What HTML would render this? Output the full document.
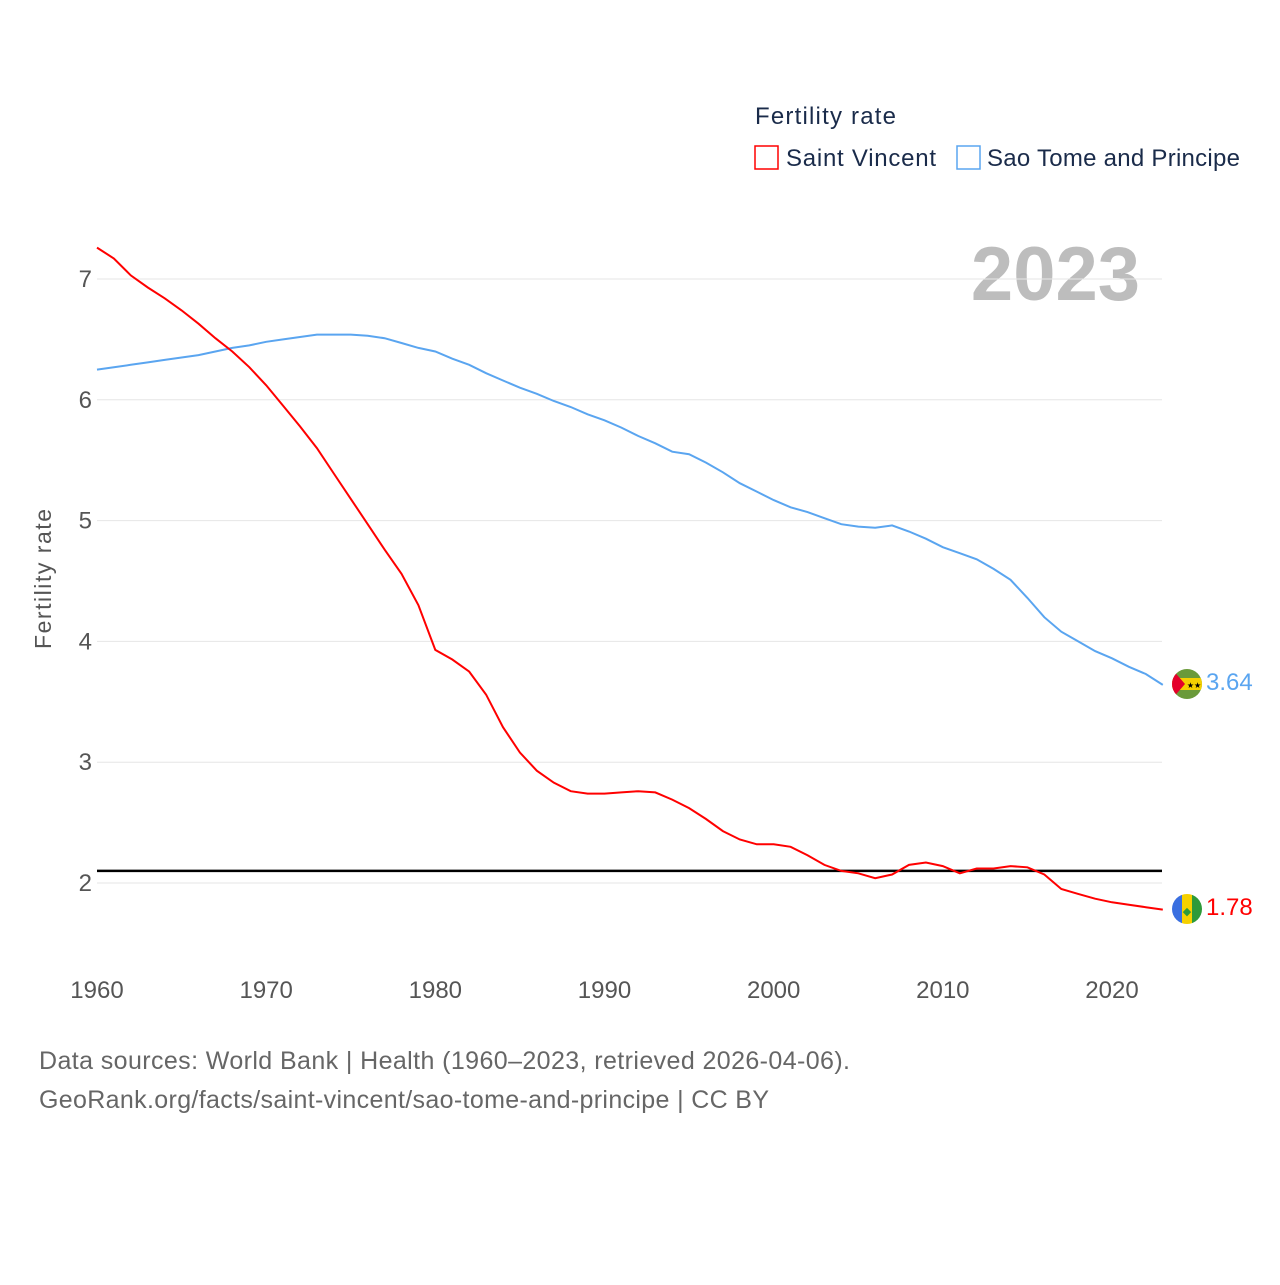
<!DOCTYPE html>
<html><head><meta charset="utf-8"><style>
body{margin:0;background:#fff;font-family:"Liberation Sans",sans-serif}
svg text{font-family:"Liberation Sans",sans-serif}
</style></head><body>
<svg id="chart" width="1280" height="1280" viewBox="0 0 1280 1280">
<text x="755" y="124" font-size="24" fill="#1a2b4a" textLength="141">Fertility rate</text>
<g><rect x="755" y="146" width="23" height="23" fill="none" stroke="#f00" stroke-width="1.5"/><text x="786" y="166" font-size="24" fill="#1a2b4a" textLength="150">Saint Vincent</text></g>
<g><rect x="957" y="146" width="23" height="23" fill="none" stroke="#5aa5f0" stroke-width="1.5"/><text x="987" y="166" font-size="24" fill="#1a2b4a" textLength="253">Sao Tome and Principe</text></g>
<text x="1140" y="300" text-anchor="end" font-size="76" font-weight="bold" fill="#bdbdbd">2023</text>
<g id="grid"></g><g id="yt"></g><g id="xt"></g>
<text transform="translate(51,579) rotate(-90)" text-anchor="middle" font-size="23" fill="#555" textLength="140">Fertility rate</text>
<line id="ref" x1="97" x2="1162" stroke="#000" stroke-width="2.5"/>
<path id="blue" fill="none" stroke="#5aa5f0" stroke-width="2"/>
<path id="red" fill="none" stroke="#f00" stroke-width="2"/>
<g><clipPath id="c1"><circle cx="1187" cy="684" r="15"/></clipPath><g clip-path="url(#c1)"><rect x="1172" y="669" width="30" height="30" fill="#6a9a3a"/><rect x="1172" y="678" width="30" height="12" fill="#f5d000"/><polygon points="1172,669 1185,684 1172,699" fill="#e4002b"/><text x="1194" y="688" font-size="8" text-anchor="middle">★★</text></g></g>
<text id="bl" x="1206" y="690" font-size="24" fill="#5aa5f0">3.64</text>
<g><clipPath id="c2"><circle cx="1187" cy="909" r="15"/></clipPath><g clip-path="url(#c2)"><rect x="1172" y="894" width="10" height="30" fill="#3a6fe0"/><rect x="1182" y="894" width="10" height="30" fill="#f5d000"/><rect x="1192" y="894" width="10" height="30" fill="#2e9a3a"/><text x="1187" y="915" font-size="11" text-anchor="middle" fill="#2e9a3a">◆</text></g></g>
<text id="rl" x="1206" y="915" font-size="24" fill="#f00">1.78</text>
<text x="39" y="1069" font-size="25" fill="#666" textLength="811">Data sources: World Bank | Health (1960–2023, retrieved 2026-04-06).</text>
<text x="39" y="1108" font-size="25" fill="#666" textLength="730">GeoRank.org/facts/saint-vincent/sao-tome-and-principe | CC BY</text>
</svg>
<script>
const years=[];for(let y=1960;y<=2023;y++)years.push(y);
const saintVincent=[7.26,7.17,7.03,6.93,6.84,6.74,6.63,6.51,6.40,6.27,6.12,5.95,5.78,5.60,5.39,5.18,4.97,4.76,4.56,4.30,3.93,3.85,3.75,3.56,3.29,3.08,2.93,2.83,2.76,2.74,2.74,2.75,2.76,2.75,2.69,2.62,2.53,2.43,2.36,2.32,2.32,2.30,2.23,2.15,2.10,2.08,2.04,2.07,2.15,2.17,2.14,2.08,2.12,2.12,2.14,2.13,2.07,1.95,1.91,1.87,1.84,1.82,1.80,1.78];
const saoTome=[6.25,6.27,6.29,6.31,6.33,6.35,6.37,6.40,6.43,6.45,6.48,6.50,6.52,6.54,6.54,6.54,6.53,6.51,6.47,6.43,6.40,6.34,6.29,6.22,6.16,6.10,6.05,5.99,5.94,5.88,5.83,5.77,5.70,5.64,5.57,5.55,5.48,5.40,5.31,5.24,5.17,5.11,5.07,5.02,4.97,4.95,4.94,4.96,4.91,4.85,4.78,4.73,4.68,4.60,4.51,4.36,4.20,4.08,4.00,3.92,3.86,3.79,3.73,3.64];
const yTicks=[2,3,4,5,6,7];
const xTicks=[1960,1970,1980,1990,2000,2010,2020];
const refValue=2.1;
const X=y=>97+(y-1960)*(1112-97)/60;
const Y=v=>883-(v-2)*(883-279)/5;
const NS="http://www.w3.org/2000/svg";
const grid=document.getElementById('grid'),yt=document.getElementById('yt'),xt=document.getElementById('xt');
yTicks.forEach(t=>{
 const l=document.createElementNS(NS,'line');
 
 
 l.setAttribute('x1',97);l.setAttribute('x2',1162);l.setAttribute('y1',Y(t));l.setAttribute('y2',Y(t));l.setAttribute('stroke','#e6e6e6');
 grid.appendChild(l);
 const tx=document.createElementNS(NS,'text');
 
 
 tx.setAttribute('x',92);tx.setAttribute('y',Y(t)+8);tx.setAttribute('text-anchor','end');tx.setAttribute('font-size','24');tx.setAttribute('fill','#555');tx.textContent=t;
 yt.appendChild(tx);
});
xTicks.forEach(t=>{
 const tx=document.createElementNS(NS,'text');
 
 
 tx.setAttribute('x',X(t));tx.setAttribute('y',998);tx.setAttribute('text-anchor','middle');tx.setAttribute('font-size','24');tx.setAttribute('fill','#555');tx.textContent=t;
 xt.appendChild(tx);
});
const path=a=>a.map((v,i)=>(i?'L':'M')+X(years[i]).toFixed(1)+','+Y(v).toFixed(1)).join('');
document.getElementById('red').setAttribute('d',path(saintVincent));
document.getElementById('blue').setAttribute('d',path(saoTome));
const r=document.getElementById('ref');r.setAttribute('y1',Y(refValue));r.setAttribute('y2',Y(refValue));
document.getElementById('bl').textContent=saoTome[saoTome.length-1].toFixed(2);
document.getElementById('rl').textContent=saintVincent[saintVincent.length-1].toFixed(2);
</script>
</body></html>
